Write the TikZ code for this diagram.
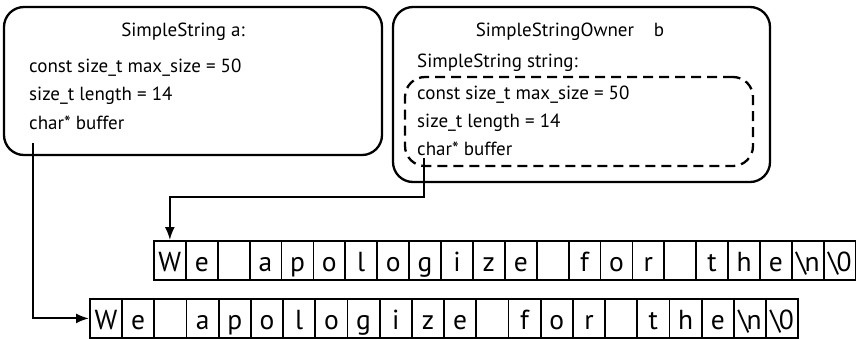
\documentclass[tikz,border=0pt]{standalone}
\usepackage{fontspec}
\setmainfont{PT Sans}
\usetikzlibrary{arrows.meta}
\begin{document}
\begin{tikzpicture}[x=1pt,y=-1pt,
  every node/.style={font=\fontsize{19}{22}\selectfont},
  objbox/.style={draw,line width=2.3pt,rounded corners=20pt,inner sep=0pt},
  innerbox/.style={draw,line width=2.3pt,dash pattern=on 10pt off 6pt,rounded corners=20pt,inner sep=0pt},
  field/.style={anchor=base west,inner sep=0pt},
  cell/.style={draw,line width=1.8pt,inner xsep=0pt,inner ysep=0pt,anchor=north west,
    font=\fontsize{27.5}{30}\selectfont,text height=30.5pt,text depth=8.5pt},
  topcell/.style={cell,minimum width=31.9pt},
  botcell/.style={cell,minimum width=32.2pt},
  ptr/.style={line width=2pt,-{Latex[length=13pt,width=10pt]}}]
\useasboundingbox (0,0) rectangle (856,338);

% object a
\node[objbox,minimum width=378pt,minimum height=148pt] (boxa) at (193,81) {};
\node[field,anchor=base] (atitle) at (183,36) {SimpleString a:};
\node[field] (amax) at (29,72) {const size\_t max\_size = 50};
\node[field] (alen) at (29,100) {size\_t length = 14};
\node[field] (abuf) at (29,129) {char* buffer};

% object b, owning a SimpleString
\node[objbox,minimum width=377pt,minimum height=175pt] (boxb) at (581.5,94.5) {};
\node[field,anchor=base] (btitle) at (570,36) {SimpleStringOwner\hspace{1.05em}b};
\node[field] (bstr) at (417,67) {SimpleString string:};
\node[innerbox,minimum width=348pt,minimum height=89pt] (inner) at (579,121.5) {};
\node[field] (bmax) at (417,99) {const size\_t max\_size = 50};
\node[field] (blen) at (417,127) {size\_t length = 14};
\node[field] (bbuf) at (417,155) {char* buffer};

% character buffers
\foreach \ch [count=\i] in {W,e,{},a,p,o,l,o,g,i,z,e,{},f,o,r,{},t,h,e,
    \textbackslash\kern-2pt n,\textbackslash\kern-2pt 0}{
  \node[topcell] (t\i) at ({153+(\i-1)*31.9},240) {\ch};
  \node[botcell] (b\i) at ({89+(\i-1)*32.2},298) {\ch};
}

% buffer pointers
\coordinate (pa) at (33,143);
\draw[ptr] (pa) |- (b1.west);
\coordinate (pb) at (424,158);
\coordinate (pbk) at (424,197);
\draw[ptr] (pb) -- (pbk) -| (t1.north);
\end{tikzpicture}
\end{document}
